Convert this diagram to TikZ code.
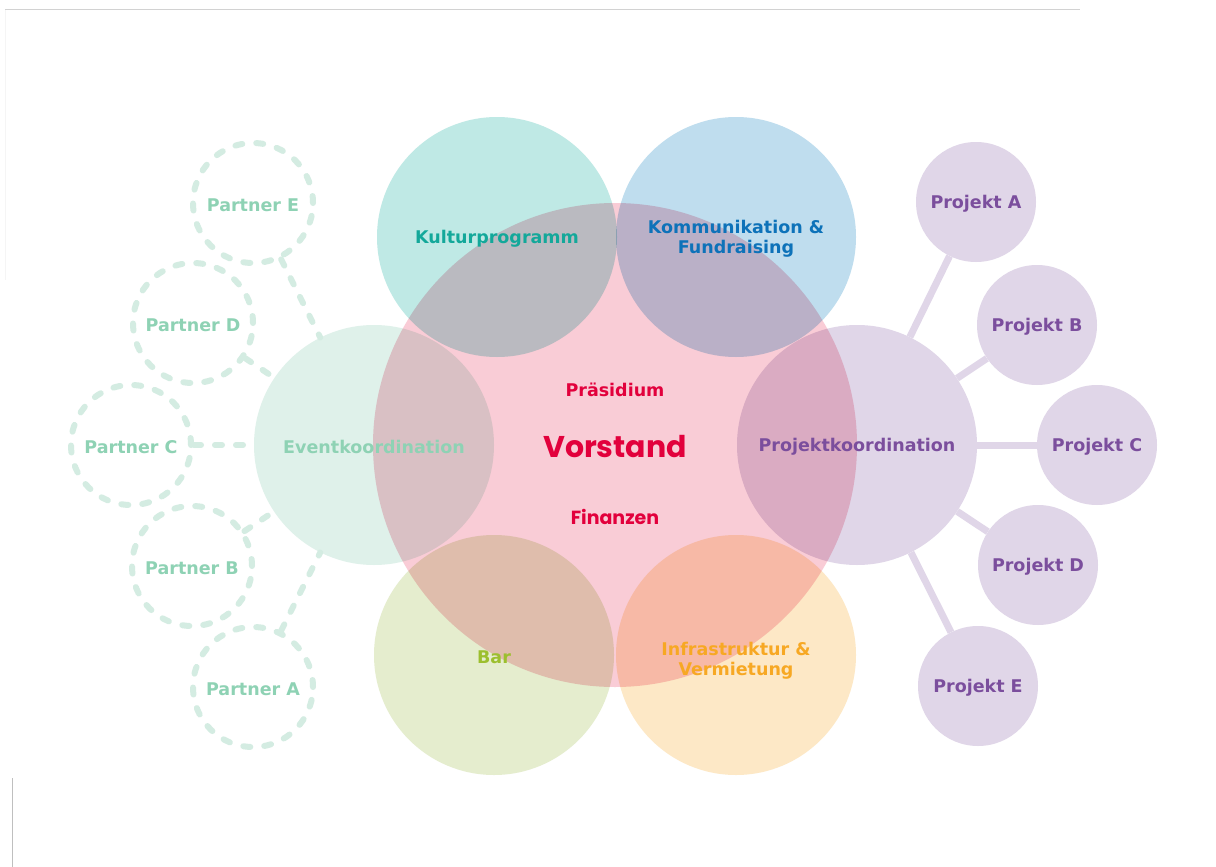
\documentclass[tikz,border=0pt]{standalone}
\usepackage{fontspec}
\setmainfont{DejaVu Sans}
\newfontfamily\popfont{Poppins}
\definecolor{vpink}{HTML}{F9CCD6}
\definecolor{kteal}{HTML}{BFE9E5}
\definecolor{kblue}{HTML}{BFDDEE}
\definecolor{evgreen}{HTML}{DFF1EA}
\definecolor{pkpurple}{HTML}{E0D6E8}
\definecolor{bargreen}{HTML}{E5EDCE}
\definecolor{infraorange}{HTML}{FDE8C6}
\definecolor{ptline}{HTML}{D4ECE2}
\definecolor{tred}{HTML}{E2003C}
\definecolor{tteal}{HTML}{13A89A}
\definecolor{tblue}{HTML}{0D72B9}
\definecolor{tgreen}{HTML}{8ED2B4}
\definecolor{tpurple}{HTML}{7B4E9D}
\definecolor{tbar}{HTML}{9CBF2E}
\definecolor{torange}{HTML}{F7A823}
\tikzset{
  bigcirc/.style={circle, inner sep=0pt, minimum size=484pt},
  midcirc/.style={circle, inner sep=0pt, minimum size=240pt},
  smallcirc/.style={circle, inner sep=0pt, minimum size=120pt, fill=pkpurple},
  partnercirc/.style={circle, inner sep=0pt, minimum size=120pt, draw=ptline, line width=6pt, dash pattern=on 7pt off 14pt, line cap=round},
  partnerlink/.style={draw=ptline, line width=6pt, dash pattern=on 7pt off 14pt, line cap=round},
  projlink/.style={draw=pkpurple, line width=7pt},
  lbl/.style={font=\fontsize{17.5}{20}\selectfont\bfseries, align=center, inner sep=0pt, yshift=-2pt},
}
\begin{document}
\begin{tikzpicture}[x=1pt,y=-1pt]
\useasboundingbox[fill=white] (0,0) rectangle (1216,867);
% frame artefacts
\draw[gray!35, line width=1pt] (5,10) -- (1080,10);
\draw[gray!8, line width=1pt] (5,10) -- (5,280);
\draw[gray!50, line width=1pt] (12,778) -- (12,867);

% partner circles
\node[partnercirc] (pE) at (253,203) {};
\node[partnercirc] (pD) at (193,323) {};
\node[partnercirc] (pC) at (131,445) {};
\node[partnercirc] (pB) at (192,566) {};
\node[partnercirc] (pA) at (253,687) {};

% project circles
\node[smallcirc] (jA) at (976,202) {};
\node[smallcirc] (jB) at (1037,325) {};
\node[smallcirc] (jC) at (1097,445) {};
\node[smallcirc] (jD) at (1038,565) {};
\node[smallcirc] (jE) at (978,686) {};

% main circles (multiplied)
\begin{scope}[blend mode=multiply]
\node[midcirc, fill=kteal] (kultur) at (497,237) {};
\node[midcirc, fill=kblue] (komm) at (736,237) {};
\node[midcirc, fill=evgreen] (ev) at (374,445) {};
\node[midcirc, fill=pkpurple] (pk) at (857,445) {};
\node[midcirc, fill=bargreen] (bar) at (494,655) {};
\node[midcirc, fill=infraorange] (infra) at (736,655) {};
\node[bigcirc, fill=vpink] (vorstand) at (615,445) {};
\end{scope}

% connectors
\path[partnerlink] (pE) -- (ev);
\path[partnerlink] (pD) -- (ev);
\path[partnerlink] (pC) -- (ev);
\path[partnerlink] (pB) -- (ev);
\path[partnerlink] (pA) -- (ev);
\path[projlink] (pk) -- (jA);
\path[projlink] (pk) -- (jB);
\path[projlink] (pk) -- (jC);
\path[projlink] (pk) -- (jD);
\path[projlink] (pk) -- (jE);

% labels
\node[lbl, text=tgreen] (lpE) at (pE) {Partner E};
\node[lbl, text=tgreen] (lpD) at (pD) {Partner D};
\node[lbl, text=tgreen] (lpC) at (pC) {Partner C};
\node[lbl, text=tgreen] (lpB) at (pB) {Partner B};
\node[lbl, text=tgreen] (lpA) at (pA) {Partner A};
\node[lbl, text=tpurple] (ljA) at (jA) {Projekt A};
\node[lbl, text=tpurple] (ljB) at (jB) {Projekt B};
\node[lbl, text=tpurple] (ljC) at (jC) {Projekt C};
\node[lbl, text=tpurple] (ljD) at (jD) {Projekt D};
\node[lbl, text=tpurple] (ljE) at (jE) {Projekt E};
\node[lbl, text=tteal] (lkultur) at (kultur) {Kulturprogramm};
\node[lbl, text=tblue] (lkomm) at (komm) {Kommunikation \&\\Fundraising};
\node[lbl, text=tgreen] (lev) at (ev) {Eventkoordination};
\node[lbl, text=tpurple] (lpk) at (pk) {Projektkoordination};
\node[lbl, text=tbar] (lbar) at (bar) {Bar};
\node[lbl, text=torange] (linfra) at ([yshift=-4pt]infra.center) {Infrastruktur \&\\Vermietung};
\node[lbl, text=tred] (lpraes) at (615,388) {Präsidium};
\node[lbl, text=tred, font=\popfont\fontsize{30}{34}\selectfont\bfseries] (lvor) at (vorstand) {Vorstand};
\node[lbl, text=tred, font=\popfont\fontsize{19}{22}\selectfont\bfseries] (lfin) at (615,515) {Finanzen};
\end{tikzpicture}
\end{document}
